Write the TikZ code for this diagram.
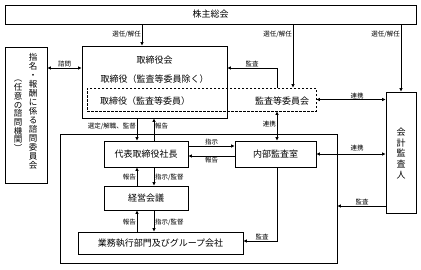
\documentclass[tikz,border=0pt]{standalone}
\usepackage{fontspec}
\setmainfont{Noto Sans CJK JP}
\usepackage{tikz}
\usetikzlibrary{arrows.meta, positioning, calc}

\tikzset{
    box/.style={draw, line width=0.8pt, inner sep=0pt, font=\fontsize{9}{10}\selectfont},
    dbox/.style={draw, dashed, line width=0.8pt, dash pattern=on 2.5pt off 1.5pt, inner sep=0pt},
    txt/.style={font=\fontsize{9}{10}\selectfont, inner sep=0pt},
    lbl/.style={font=\fontsize{6.5}{7}\selectfont, inner sep=1pt},
    arr/.style={line width=0.8pt, -{Latex[length=3.5pt,width=3.5pt]}},
    darr/.style={line width=0.8pt, {Latex[length=3.5pt,width=3.5pt]}-{Latex[length=3.5pt,width=3.5pt]}}
}

\begin{document}
\begin{tikzpicture}[x=1pt, y=-1pt]
    \useasboundingbox (0,0) rectangle (421,269);

    % Boxes
    \node[box, minimum width=411pt, minimum height=19pt] (sokai) at (210.5,14.5) {株主総会};
    \node[box, minimum width=145pt, minimum height=72pt] (board) at (154.5,82) {};
    \node[dbox, minimum width=229pt, minimum height=23pt] (audcom) at (201.5,99.5) {};
    \node[box, minimum width=42pt, minimum height=136pt] (adv) at (26,115) {};
    \node[box, minimum width=30pt, minimum height=121pt] (auditor) at (401,152.5) {};
    \node[box, minimum width=277pt, minimum height=129pt] (exec) at (198.5,198.5) {};
    \node[box, minimum width=84pt, minimum height=26pt] (pres) at (146,154) {代表取締役社長};
    \node[box, minimum width=81pt, minimum height=26pt] (inaudit) at (275.5,154) {内部監査室};
    \node[box, minimum width=84pt, minimum height=24pt] (meeting) at (146,198) {経営会議};
    \node[box, minimum width=165pt, minimum height=22pt] (dept) at (160.5,243) {業務執行部門及びグループ会社};

    % Texts in boxes
    \node[txt] (boardt) at (154.5,60) {取締役会};
    \node[txt] (boardd) at (154.5,79) {取締役（監査等委員除く）};
    \node[txt] (auddir) at (145,101) {取締役（監査等委員）};
    \node[txt] (audcomt) at (282,101) {監査等委員会};
    \node[txt, align=center, font=\fontsize{8.5}{9}\selectfont] (advA) at (33,111.5)
        {指\\名\\・\\報\\酬\\に\\係\\る\\諮\\問\\委\\員\\会};
    \node[txt, align=center, font=\fontsize{8.5}{8.7}\selectfont] (advB) at (18,116)
        {︵\\任\\意\\の\\諮\\問\\機\\関\\︶};
    \node[txt, align=center, font=\fontsize{9}{10.7}\selectfont] (auditort) at (401,153.5)
        {会\\計\\監\\査\\人};

    % Columns
    \coordinate (cA) at (142,0);
    \coordinate (cB) at (293,0);
    \coordinate (cD) at (277,0);
    \coordinate (cL) at (137,0);
    \coordinate (cR) at (154,0);
    \coordinate (rA) at (0,68);
    \coordinate (rM) at (0,241);

    % Shareholders
    \draw[arr] (cA |- sokai.south) -- (cA |- board.north);
    \draw[arr] (cB |- sokai.south) -- (cB |- audcom.north);
    \draw[arr] (auditor.north |- sokai.south) -- (auditor.north);
    \node[lbl, left] at (142,34) {選任/解任};
    \node[lbl, left] at (293,34) {選任/解任};
    \node[lbl, left] at (401,34) {選任/解任};

    % Board and committees
    \draw[darr] (adv.east |- rA) -- (board.west |- rA);
    \node[lbl, above] at (64.5,68) {諮問};
    \draw[arr] (cD |- audcom.north) |- (board.east |- rA);
    \node[lbl, above] at (252,68) {監査};
    \draw[darr] (audcom.east) -- (auditor.west |- audcom.east);
    \node[lbl, above] at (357,100) {連携};
    \draw[darr] (cD |- audcom.south) -- (cD |- inaudit.north);
    \node[lbl, left] at (277,124) {連携};

    % Board and president
    \draw[arr] (cL |- board.south) -- (cL |- pres.north);
    \node[lbl, left] at (137,126) {選定/解職、監督};
    \draw[arr] (cR |- pres.north) -- (cR |- board.south);
    \node[lbl, right] at (154,126) {報告};

    % President and internal audit
    \draw[arr] ([yshift=8pt]pres.east) -- ([yshift=8pt]pres.east -| inaudit.west);
    \node[lbl, above] at (211.5,146) {指示};
    \draw[arr] ([yshift=-2pt]inaudit.west) -- ([yshift=-2pt]inaudit.west -| pres.east);
    \node[lbl, below] at (211.5,156) {報告};
    \draw[darr] (inaudit.east) -- (auditor.west |- inaudit.east);
    \node[lbl, above] at (357,152) {連携};
    \draw[arr] (auditor.west |- 0,206) -- (exec.east |- 0,206);
    \node[lbl, above] at (362,206) {監査};
    \draw[arr] (cD |- inaudit.south) |- (dept.east |- rM);
    \node[lbl, above] at (262,241) {監査};

    % President, meeting, departments
    \draw[arr] (cL |- meeting.north) -- (cL |- pres.south);
    \node[lbl, left] at (137,177) {報告};
    \draw[arr] (cR |- pres.south) -- (cR |- meeting.north);
    \node[lbl, right] at (154,177) {指示/監督};
    \draw[arr] (cL |- dept.north) -- (cL |- meeting.south);
    \node[lbl, left] at (137,222) {報告};
    \draw[arr] (cR |- meeting.south) -- (cR |- dept.north);
    \node[lbl, right] at (154,222) {指示/監督};
\end{tikzpicture}
\end{document}
